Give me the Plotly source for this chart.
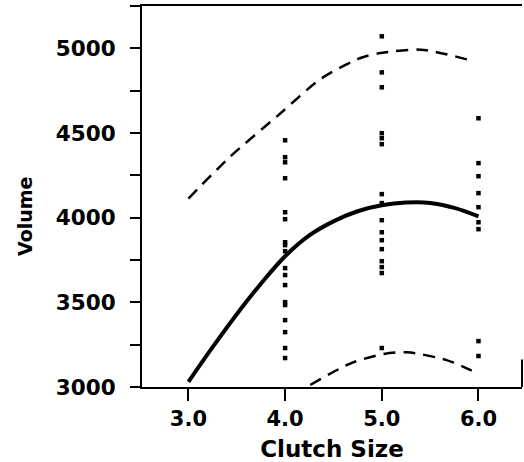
import plotly.graph_objects as go

# Observed points (clutch size, volume)
pts4_y = [4457, 4357, 4327, 4233, 4032, 3991, 3855, 3838, 3802, 3702, 3661, 3602,
          3501, 3484, 3395, 3324, 3230, 3171]
pts5_y = [5071, 4858, 4770, 4499, 4469, 4434, 4139, 4086, 3985, 3914, 3867, 3814,
          3743, 3708, 3673, 3230]
pts6_y = [4587, 4322, 4245, 4145, 4062, 3973, 3932, 3271, 3183]

# Fitted curve (solid)
fit_x = [3.0, 3.25, 3.5, 3.75, 4.0, 4.25, 4.5, 4.75, 5.0, 5.25, 5.5, 5.75, 6.0]
fit_y = [3030, 3235, 3430, 3610, 3772, 3895, 3978, 4038, 4073, 4089, 4087, 4058, 4008]

# Upper confidence band (dashed)
up_x = [3.0, 3.43, 3.95, 4.37, 4.78, 4.99, 5.4, 5.88]
up_y = [4113, 4359, 4615, 4820, 4943, 4972, 4992, 4935]

# Lower confidence band (dashed)
lo_x = [4.26, 4.68, 5.02, 5.26, 5.67, 5.93]
lo_y = [3012, 3140, 3195, 3205, 3159, 3096]

x_ticks = [3.0, 4.0, 5.0, 6.0]
x_ticklabels = ["3.0", "4.0", "5.0", "6.0"]
y_ticks = [3000, 3500, 4000, 4500, 5000]
y_ticklabels = ["3000", "3500", "4000", "4500", "5000"]

FONT = "DejaVu Sans"

fig = go.Figure()

pt_x = [4.0] * len(pts4_y) + [5.0] * len(pts5_y) + [6.0] * len(pts6_y)
pt_y = pts4_y + pts5_y + pts6_y
fig.add_trace(go.Scatter(x=pt_x, y=pt_y, mode="markers",
                         marker=dict(symbol="square", size=4.5, color="black",
                                     line=dict(width=0)),
                         showlegend=False))
fig.add_trace(go.Scatter(x=fit_x, y=fit_y, mode="lines",
                         line=dict(color="black", width=4, shape="spline", smoothing=1.0),
                         showlegend=False))
fig.add_trace(go.Scatter(x=up_x, y=up_y, mode="lines",
                         line=dict(color="black", width=2.5, dash="12px,8px",
                                   shape="spline", smoothing=0.8),
                         showlegend=False))
fig.add_trace(go.Scatter(x=lo_x, y=lo_y, mode="lines",
                         line=dict(color="black", width=2.5, dash="12px,8px",
                                   shape="spline", smoothing=0.8),
                         showlegend=False))

fig.update_layout(
    width=524, height=462,
    margin=dict(l=142, r=2, t=6, b=75),
    paper_bgcolor="white", plot_bgcolor="white",
    font=dict(family=FONT, color="black"),
    xaxis=dict(
        range=[2.52, 6.45], showgrid=False, zeroline=False,
        showline=True, linecolor="black", linewidth=2, mirror=True,
        ticks="outside", ticklen=12, tickwidth=2, tickcolor="black",
        tickvals=x_ticks, ticktext=x_ticklabels,
        tickfont=dict(family=FONT, size=21, weight="bold"),
        title=dict(text="Clutch Size", font=dict(family=FONT, size=23, weight="bold"),
                   standoff=14),
        automargin=False,
    ),
    yaxis=dict(
        range=[3000, 5250], showgrid=False, zeroline=False,
        showline=True, linecolor="black", linewidth=2,
        ticks="outside", ticklen=10, tickwidth=2, tickcolor="black",
        tickvals=y_ticks, ticktext=y_ticklabels,
        tickfont=dict(family=FONT, size=21.5, weight="bold"),
        ticklabelposition="outside", ticklabelstandoff=10,
        minor=dict(dtick=250, tick0=0, ticks="outside", ticklen=10, tickwidth=2,
                   tickcolor="black", showgrid=False),
        automargin=False,
    ),
)

# y-axis title placed as rotated text
fig.add_annotation(text="<b>Volume</b>", xref="paper", yref="paper",
                   x=(25 - 142) / 380, y=(387 - 217) / 381,
                   xanchor="center", yanchor="middle", textangle=-90,
                   showarrow=False, font=dict(family=FONT, size=19, color="black"))

# short right frame segment near the bottom
fig.add_shape(type="line", xref="paper", yref="paper", x0=1, x1=1, y0=0, y1=0.072,
              line=dict(color="black", width=2))

fig.write_html("out.html", config={"displayModeBar": False},
               post_script="document.body.style.margin='0';")
